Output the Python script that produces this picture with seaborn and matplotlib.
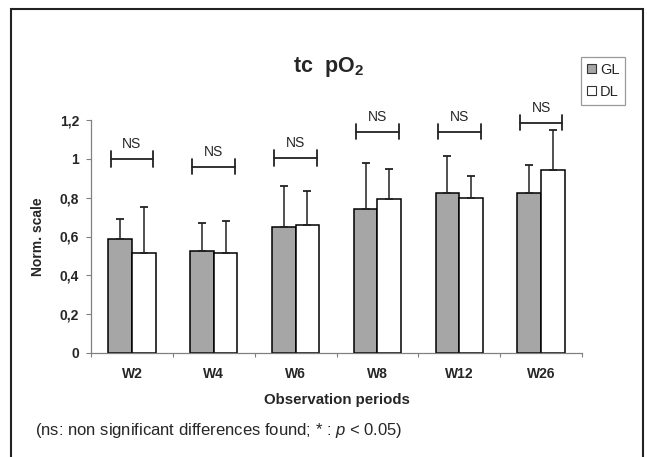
import pandas as pd
import matplotlib
matplotlib.use("Agg")
import matplotlib.pyplot as plt
import matplotlib.patches as mpatches
import seaborn as sns

# Values
periods = ["W2", "W4", "W6", "W8", "W12", "W26"]
gl_mean = [0.585, 0.527, 0.651, 0.742, 0.823, 0.823]
gl_err = [0.105, 0.141, 0.211, 0.236, 0.192, 0.146]
dl_mean = [0.517, 0.517, 0.658, 0.795, 0.797, 0.942]
dl_err = [0.237, 0.163, 0.175, 0.152, 0.117, 0.207]
bracket_y = [1.0, 0.96, 1.005, 1.14, 1.14, 1.187]
bracket_txt = ["NS"] * 6
yticks = [0, 0.2, 0.4, 0.6, 0.8, 1.0, 1.2]
ytick_labels = ["0", "0,2", "0,4", "0,6", "0,8", "1", "1,2"]

df = pd.DataFrame({
    "period": periods * 2,
    "group": ["GL"] * 6 + ["DL"] * 6,
    "value": gl_mean + dl_mean,
})

sns.set_style("ticks")
plt.rcParams["font.family"] = ["Liberation Sans", "DejaVu Sans"]
plt.rcParams["mathtext.fontset"] = "custom"
plt.rcParams["mathtext.rm"] = "Liberation Sans"
plt.rcParams["mathtext.it"] = "Liberation Sans:italic"
plt.rcParams["mathtext.bf"] = "Liberation Sans:bold"

fig = plt.figure(figsize=(6.47, 4.57), dpi=100)
ax = fig.add_axes([91 / 647, 1 - 353 / 457, 491 / 647, 233 / 457])

gray = "#a6a6a6"
sns.barplot(data=df, x="period", y="value", hue="group", order=periods,
            hue_order=["GL", "DL"], palette={"GL": gray, "DL": "white"},
            width=0.58, gap=0, edgecolor="black", linewidth=1.1,
            errorbar=None, legend=False, ax=ax)

# upward-only error bars at bar centres
for cont, err in zip(ax.containers, [gl_err, dl_err]):
    xs = [p.get_x() + p.get_width() / 2 for p in cont.patches]
    ys = [p.get_height() for p in cont.patches]
    ax.errorbar(xs, ys, yerr=[[0] * len(err), err], fmt="none",
                ecolor="#222222", elinewidth=1.1, capsize=3, capthick=1.3)

# NS brackets
for i, (by, t) in enumerate(zip(bracket_y, bracket_txt)):
    ax.plot([i - 0.26, i + 0.26], [by, by], color="#222222", lw=1.3, clip_on=False)
    for xe in (i - 0.26, i + 0.26):
        ax.plot([xe, xe], [by - 0.04, by + 0.04], color="#222222", lw=1.3, clip_on=False)
    ax.text(i, by + 0.075, t, ha="center", va="center", fontsize=10, clip_on=False)

ax.set_xlim(-0.5, 5.5)
ax.set_ylim(0, 1.2)
ax.set_yticks(yticks)
ax.set_yticklabels(ytick_labels, fontsize=10, fontweight="bold")
ax.set_xticks(range(len(periods)))
ax.set_xticklabels(periods, fontsize=10, fontweight="bold")
ax.set_xticks([i - 0.5 for i in range(len(periods) + 1)], minor=True)
ax.tick_params(axis="x", which="major", length=0, pad=10)
ax.tick_params(axis="x", which="minor", length=3, color="#808080", width=0.8)
ax.tick_params(axis="y", length=3.5, color="#808080", width=0.8, pad=5)

sns.despine(ax=ax)
for s in ["left", "bottom"]:
    ax.spines[s].set_color("#808080")
    ax.spines[s].set_linewidth(0.9)

ax.set_xlabel("Observation periods", fontsize=10.8, fontweight="bold")
ax.set_ylabel("Norm. scale", fontsize=10, fontweight="bold")
ax.xaxis.set_label_coords(0.5, -0.17)
ax.yaxis.set_label_coords(-0.093, 0.5)

handles = [mpatches.Patch(facecolor=gray, edgecolor="#333333", lw=0.8, label="GL"),
           mpatches.Patch(facecolor="white", edgecolor="#333333", lw=0.8, label="DL")]
leg = fig.legend(handles=handles, loc="upper left", bbox_to_anchor=(581 / 647, 1 - 57 / 457),
                 bbox_transform=fig.transFigure, borderaxespad=0, fontsize=10.5,
                 handlelength=0.6, handleheight=0.6, handletextpad=0.3,
                 labelspacing=0.55, borderpad=0.4, fancybox=False, frameon=True)
leg.get_frame().set_edgecolor("#808080")
leg.get_frame().set_linewidth(0.9)

fig.text(328 / 647, 1 - 67 / 457, r"$\mathbf{tc\ \ pO_2}$", ha="center", va="center", fontsize=15.5)
fig.text(35 / 647, 1 - 431 / 457, r"(ns: non significant differences found; * : $\mathit{p}$ < 0.05)",
         ha="left", va="center", fontsize=12)

fig.patches.append(mpatches.Rectangle((11 / 647, -0.05), 632 / 647, 1.03, transform=fig.transFigure,
                                      fill=False, edgecolor="#222222", lw=1.5))

fig.savefig("out.png", dpi=100)
